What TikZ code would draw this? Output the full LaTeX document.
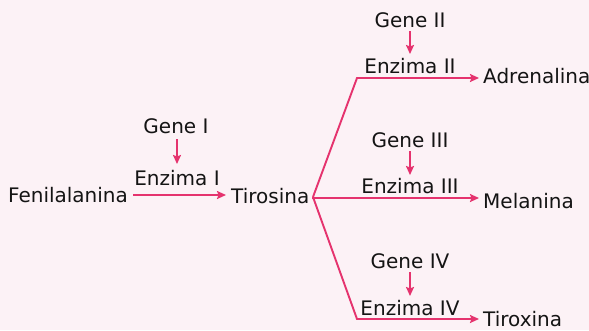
\documentclass[tikz,border=0pt]{standalone}
\usepackage{fontspec}
\setmainfont{DejaVu Sans}
\usetikzlibrary{arrows.meta}
\definecolor{bg}{HTML}{FCF2F6}
\definecolor{pk}{HTML}{E5336E}
\definecolor{tx}{HTML}{141414}
\begin{document}
\begin{tikzpicture}[x=1pt,y=-1pt,
  lbl/.style={inner sep=0pt,anchor=base,font=\fontsize{20}{23}\selectfont,text=tx},
  lbll/.style={lbl,anchor=base west},
  conn/.style={draw=pk,line width=1.9pt,-{Stealth[length=9pt,width=8pt,inset=1.5pt]}},
  seg/.style={draw=pk,line width=1.9pt,line join=miter}]
\fill[bg] (0,0) rectangle (589,330);
\useasboundingbox (0,0) rectangle (589,330);
% left part
\node[lbl] (fen) at (68,202) {Fenilalanina};
\node[lbll] (tir) at (231,203) {Tirosina};
\node[lbl] (gI) at (176,133) {Gene I};
\node[lbl] (eI) at (177,185) {Enzima I};
\coordinate (a1s) at (133,195);
\coordinate (a1e) at (226,195);
\draw[conn] (a1s) -- (a1e);
\coordinate (g1s) at (177,139);
\coordinate (g1e) at (177,164);
\draw[conn] (g1s) -- (g1e);
% branch
\coordinate (o) at (313,197);
\coordinate (c2) at (357,78);
\coordinate (c4) at (357,319);
\coordinate (t2) at (479,78);
\coordinate (t3) at (479,198);
\coordinate (t4) at (479,319);
\draw[conn] (o) -- (c2) -- (t2);
\draw[conn] (o) -- (313,198) -- (t3);
\draw[conn] (o) -- (c4) -- (t4);
% products
\node[lbll] (adr) at (483,83) {Adrenalina};
\node[lbll] (mel) at (483,208) {Melanina};
\node[lbll] (tix) at (483,326) {Tiroxina};
% genes and enzymes
\node[lbl] (gII) at (410,27) {Gene II};
\node[lbl] (eII) at (410,73) {Enzima II};
\node[lbl] (gIII) at (410,147) {Gene III};
\node[lbl] (eIII) at (410,193) {Enzima III};
\node[lbl] (gIV) at (410,268) {Gene IV};
\node[lbl] (eIV) at (410,315) {Enzima IV};
\coordinate (g2s) at (410,31); \coordinate (g2e) at (410,54);
\coordinate (g3s) at (410,151); \coordinate (g3e) at (410,175);
\coordinate (g4s) at (410,272); \coordinate (g4e) at (410,296);
\draw[conn] (g2s) -- (g2e);
\draw[conn] (g3s) -- (g3e);
\draw[conn] (g4s) -- (g4e);
\end{tikzpicture}
\end{document}
